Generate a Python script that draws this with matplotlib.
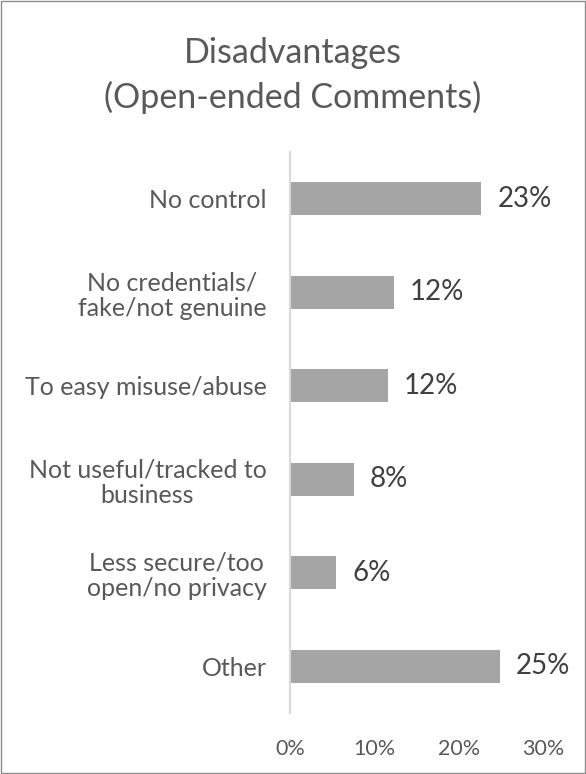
import matplotlib
matplotlib.use("Agg")
import matplotlib.pyplot as plt
from matplotlib.patches import Rectangle

categories = ["No control", "No credentials/\nfake/not genuine", "To easy misuse/abuse",
              "Not useful/tracked to\nbusiness", "Less secure/too\nopen/no privacy", "Other"]
values = [22.7, 12.3, 11.6, 7.6, 5.5, 24.9]
xticks = [0, 10, 20, 30]
xtick_labels = ["0%", "10%", "20%", "30%"]
title_lines = ["Disadvantages", "(Open-ended Comments)"]

plt.rcParams['font.family'] = ['Lato', 'DejaVu Sans']

fig = plt.figure(figsize=(5.86, 7.74), dpi=100)
ax = fig.add_axes([290/586, 1-713/774, (543-290)/586, (713-152)/774])

y = list(range(len(categories)))
ax.barh(y, values, height=0.355, color="#a5a5a5")
ax.set_ylim(len(categories)-0.5, -0.5)
ax.set_xlim(0, 30)
for yi, v in zip(y, values):
    ax.text(v + 1.9, yi, f"{v:.0f}%", va="center", ha="left", fontsize=20, color="#404040")

ax.set_yticks(y)
ax.set_yticklabels(categories, fontsize=18, color="#595959", ha="right",
                   multialignment="center", linespacing=1.12)
ax.tick_params(axis="y", length=0, pad=17)
ax.set_xticks(xticks)
ax.set_xticklabels(xtick_labels, fontsize=15.5, color="#595959")
ax.tick_params(axis="x", length=0, pad=19)
for s in ["top", "right", "bottom"]:
    ax.spines[s].set_visible(False)
ax.spines["left"].set_color("#d9d9d9")
ax.spines["left"].set_linewidth(1.5)

fig.text(0.5, 1-63/774, title_lines[0], ha="center", va="baseline", fontsize=24.5, color="#595959")
fig.text(0.5, 1-108/774, title_lines[1], ha="center", va="baseline", fontsize=24.5, color="#595959")

fig.patches.append(Rectangle((1/586, 1/774), 584/586, 772/774, transform=fig.transFigure,
                             fill=False, edgecolor="#8c8c8c", linewidth=1))

fig.savefig("out.png", dpi=100)
